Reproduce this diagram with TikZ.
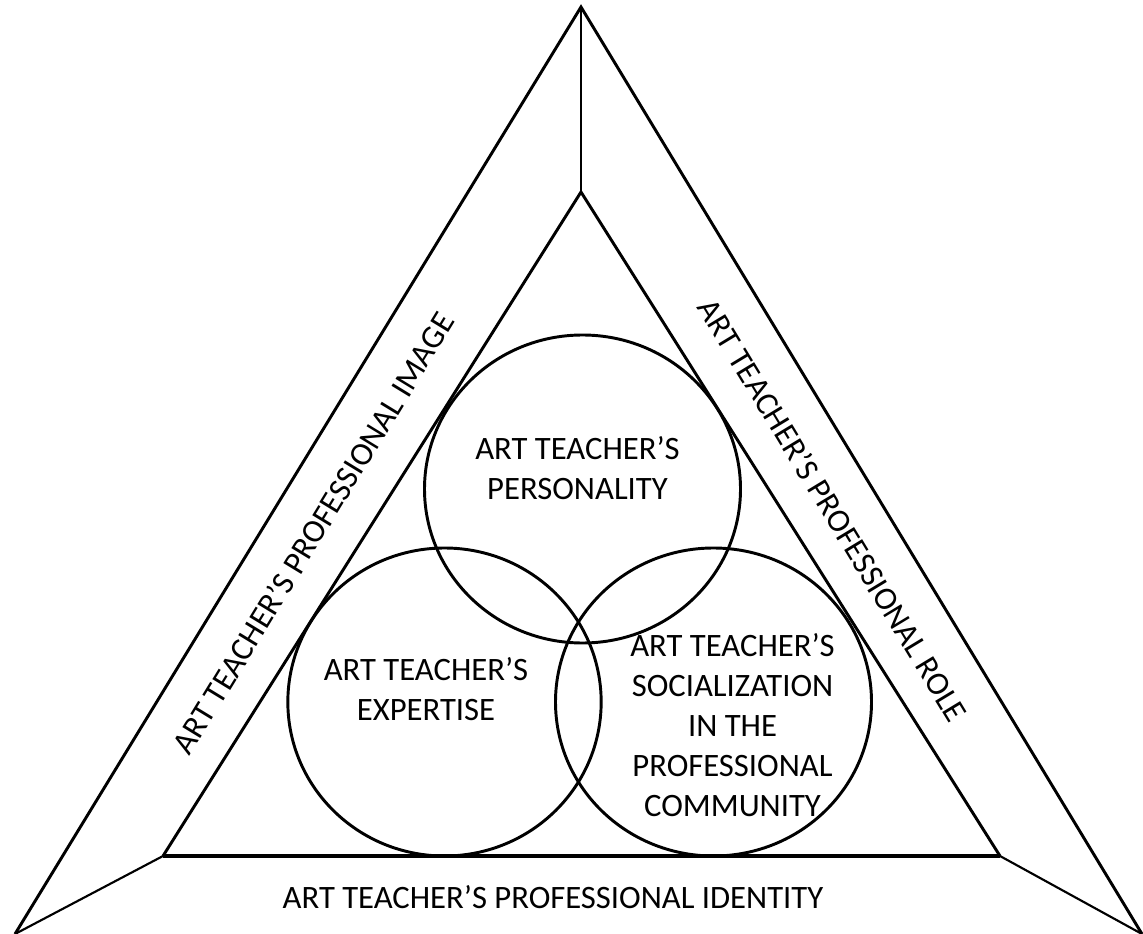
\documentclass[tikz,border=0pt]{standalone}
\usepackage{fontspec}
\setmainfont{Carlito}
\usetikzlibrary{shapes.geometric}
\begin{document}
\begin{tikzpicture}[x=0.75pt,y=-0.75pt]
	\tikzstyle{side} = [line width=2.2pt]
	\tikzstyle{base} = [line width=2.8pt]
	\tikzstyle{link} = [line width=1.6pt]
	\tikzstyle{ring} = [draw, ellipse, line width=2.2pt, inner sep=0pt, minimum width=237pt, minimum height=231pt]
	\tikzstyle{lbl} = [align=center, inner sep=0pt, font=\fontsize{24.5}{30}\selectfont]
	\useasboundingbox (0,0) rectangle (1143,934);

	\coordinate (otop) at (581,7);
	\coordinate (obl) at (15,934);
	\coordinate (obr) at (1142,934);
	\coordinate (itop) at (581,192);
	\coordinate (ibl) at (163,856);
	\coordinate (ibr) at (1000,856);

	\draw[side] (obl) -- (otop) -- (obr);
	\draw[side] (ibl) -- (itop) -- (ibr);
	\draw[base] (ibl) -- (ibr);
	\draw[link] (otop) -- (itop);
	\draw[link] (obl) -- (ibl);
	\draw[link] (obr) -- (ibr);

	\node[ring] (pers) at (582.5,489) {};
	\node[ring, minimum width=235pt] (exp) at (444.5,702) {};
	\node[ring] (soc) at (713.5,702) {};

	\node[lbl] (persT) at (577.5,468.5) {ART TEACHER’S\\PERSONALITY};
	\node[lbl] (expT) at (426,689.5) {ART TEACHER’S\\EXPERTISE};
	\node[lbl] (socT) at (732.5,725) {ART TEACHER’S\\SOCIALIZATION\\IN THE\\PROFESSIONAL\\COMMUNITY};

	\node[lbl, rotate=58.6] (imgT) at (313,533) {ART TEACHER’S PROFESSIONAL IMAGE};
	\node[lbl, rotate=-58.8] (roleT) at (833,510) {ART TEACHER’S PROFESSIONAL ROLE};
	\node[lbl] (idT) at (553,897) {ART TEACHER’S PROFESSIONAL IDENTITY};
\end{tikzpicture}
\end{document}
